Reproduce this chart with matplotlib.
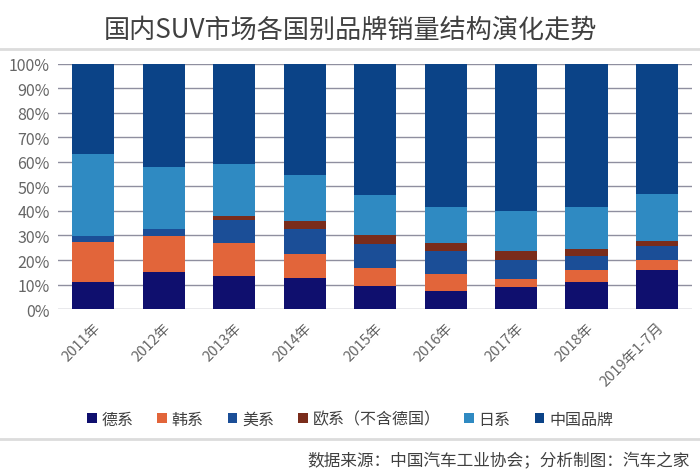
import matplotlib.pyplot as plt
from matplotlib.lines import Line2D
import numpy as np

plt.rcParams['font.family'] = ['Noto Sans CJK SC', 'DejaVu Sans']

# data (percent share of SUV sales)
years = ['2011年', '2012年', '2013年', '2014年', '2015年', '2016年', '2017年', '2018年', '2019年1-7月']
german = [11.2, 15.3, 13.4, 12.6, 9.5, 7.5, 9.0, 11.2, 15.8]
korean = [16.1, 14.4, 13.7, 9.9, 7.3, 6.7, 3.1, 4.6, 4.4]
american = [2.6, 2.9, 9.1, 10.0, 9.9, 9.4, 8.0, 6.0, 5.4]
european = [0.0, 0.0, 1.7, 3.4, 3.5, 3.4, 3.6, 2.6, 2.2]
japanese = [33.4, 25.2, 21.3, 18.8, 16.2, 14.7, 16.1, 17.1, 19.1]
chinese = [36.7, 42.2, 40.8, 45.3, 53.6, 58.3, 60.2, 58.5, 53.1]

series = [german, korean, american, european, japanese, chinese]
names = ['德系', '韩系', '美系', '欧系（不含德国）', '日系', '中国品牌']
colors = ['#0f0f6e', '#e2653a', '#1b4e97', '#7a2c1b', '#2f8ac2', '#0b4387']

fig = plt.figure(figsize=(7, 4.77), dpi=100)
ax = fig.add_axes([0.083, 0.350, 0.906, 0.514])

x = np.arange(len(years))
bottom = np.zeros(len(years))
for vals, name, c in zip(series, names, colors):
    ax.bar(x, vals, width=0.6, bottom=bottom, color=c, label=name, zorder=2)
    bottom += np.array(vals)

ax.set_xlim(-0.5, len(years) - 0.5)
ax.set_ylim(0, 100)
ax.set_yticks(range(0, 101, 10))
ax.set_yticklabels([f'{v}%' for v in range(0, 101, 10)], fontsize=11.5, color='#666666')
ax.set_xticks(x)
ax.set_xticklabels(years, rotation=45, ha='right', rotation_mode='anchor',
                   fontsize=10.5, color='#666666')
ax.tick_params(length=0, axis='both')
ax.tick_params(axis='x', pad=8)
ax.tick_params(axis='y', pad=6)
ax.grid(axis='y', color='#8f8f9f', linewidth=1, zorder=0)
for s in ax.spines.values():
    s.set_visible(False)

fig.text(0.5, 0.937, '国内SUV市场各国别品牌销量结构演化走势', ha='center', va='center',
         fontsize=18.8, color='#404040')

# separators
fig.add_artist(Line2D([0, 1], [0.895, 0.895], color='#dcdcdc', linewidth=2))
fig.add_artist(Line2D([0, 1], [0.078, 0.078], color='#dcdcdc', linewidth=2))

fig.legend(loc='center', bbox_to_anchor=(0.5, 0.119), ncol=6, frameon=False,
           fontsize=11.5, handlelength=0.6, handleheight=0.6, handletextpad=0.3,
           columnspacing=1.5, labelcolor='#404040')

fig.text(0.985, 0.032, '数据来源：中国汽车工业协会；分析制图：汽车之家', ha='right', va='center',
         fontsize=12, color='#404040')

plt.savefig('out.png', dpi=100)
